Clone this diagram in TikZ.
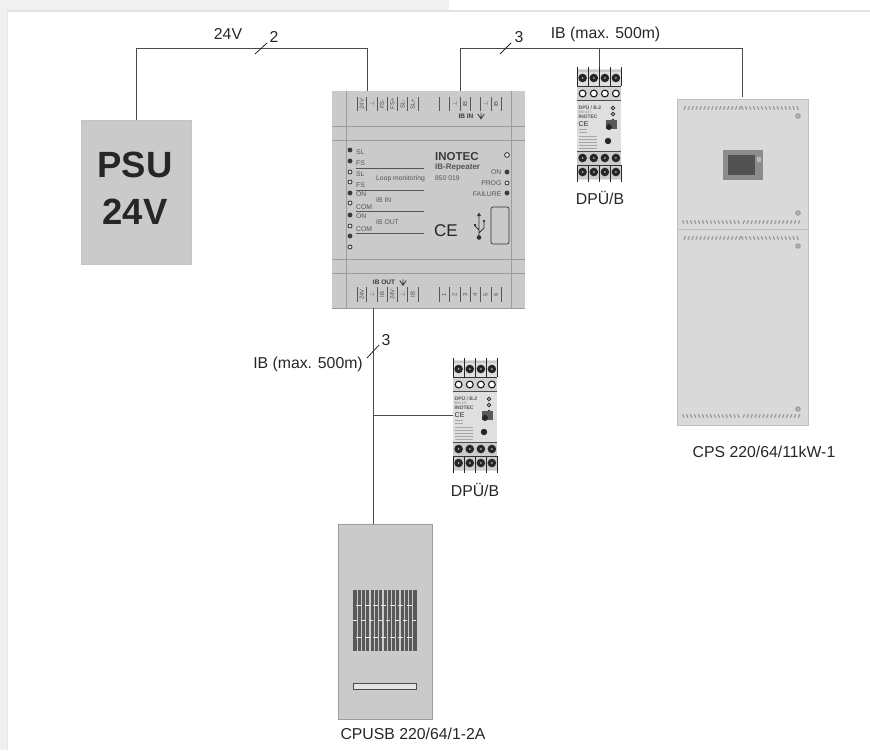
\documentclass[tikz,border=0pt]{standalone}
\usepackage{fontspec}
\setmainfont{Liberation Sans}
\newcommand\tsz[1]{\fontsize{#1}{#1}\selectfont}
\definecolor{ink}{HTML}{262626}
\definecolor{wirecol}{HTML}{4A4A4A}
\definecolor{boxgrey}{HTML}{CACACA}
\definecolor{rimgrey}{HTML}{9C9C9C}
\definecolor{labgrey}{HTML}{555555}
\definecolor{cabgrey}{HTML}{D9D9D9}
\tikzset{
  wireln/.style={draw=wirecol,line width=1pt},
  slashln/.style={draw=ink,line width=.8pt},
  biglabel/.style={font=\tsz{15.8},text=ink,inner sep=0pt},
  tinylab/.style={font=\tsz{6.8},text=labgrey,inner sep=0pt,anchor=west},
  pinlab/.style={font=\tsz{6},text=labgrey,inner sep=0pt,rotate=90},
  panelln/.style={draw=rimgrey,line width=.8pt},
  tickln/.style={draw=labgrey,line width=.7pt},
  ledon/.style={fill=labgrey!70!black,draw=labgrey!70!black,line width=.4pt},
  ledoff/.style={fill=boxgrey!40!white,draw=black!75,line width=.9pt},
  anchorbox/.style={inner sep=0pt,outer sep=0pt,minimum width=#1},
  ventln/.style={draw=gray!80,line width=1.2pt},
}
% DPU device: #1 node name, #2 x, #3 y of top-left corner
\newcommand\dpudevice[3]{%
  \begin{scope}[shift={(#2,#3)}]
    \node[anchorbox=44pt,minimum height=115pt,anchor=north west] (#1) at (0,0) {};
    \fill[gray!25] (0,2) rectangle (44,113);
    \fill[gray!45] (0,3) rectangle (44,5);
    \fill[gray!35] (0,20) rectangle (44,33);
    \fill[gray!40] (0,85) rectangle (44,112);
    \foreach \xx in {0,11.2,22.4,33.4,44}{
      \draw[black!85,line width=.8pt] (\xx,0) -- (\xx,19);
      \draw[black!85,line width=.8pt] (\xx,98) -- (\xx,115);
    }
    \draw[black!80,line width=.8pt] (0,19.5) -- (44,19.5);
    \draw[black!70,line width=.6pt] (0,33) -- (44,33);
    \draw[black!70,line width=.6pt] (0,84) -- (44,84);
    \draw[black!80,line width=.8pt] (0,98) -- (44,98);
    \foreach \xx in {5.6,16.8,27.9,38.9}{
      \fill[black!85] (\xx,11) circle (4.3);
      \fill[gray!60] (\xx,11) circle (1);
      \draw[black!90,fill=white,line width=1.1pt] (\xx,26.5) circle (3.4);
      \fill[black!85] (\xx,91) circle (4.3);
      \fill[gray!60] (\xx,91) circle (1);
      \fill[black!85] (\xx,105) circle (4.3);
      \fill[gray!60] (\xx,105) circle (1);
    }
    \node[font=\bfseries\tsz{5},text=labgrey,inner sep=0pt,anchor=west] (#1t1) at (1.5,40) {DPÜ / B.2};
    \node[font=\tsz{3.5},text=gray,inner sep=0pt,anchor=west] (#1t2) at (1.5,45) {880 417};
    \node[font=\bfseries\tsz{5},text=labgrey,inner sep=0pt,anchor=west] (#1t3) at (1.5,50) {INOTEC};
    \node[font=\tsz{7},text=ink,inner sep=0pt,anchor=west] (#1t4) at (1.5,57) {CE};
    \foreach \yy in {41,47,54}{\draw[black!85,fill=white,line width=.8pt] (36,\yy) circle (1.8);}
    \fill[gray!70!black] (29,53) rectangle (40,62);
    \fill[black!85] (32,60) circle (3);
    \fill[black!85] (31,74) circle (3.2);
    \foreach \yy in {69,72,75,78,81}{\draw[gray!70,line width=.5pt] (2,\yy) -- (20,\yy);}
    \draw[gray!70,line width=.5pt] (2,62) -- (10,62) (2,65) -- (10,65);
  \end{scope}}
% cabinet vents: #1 y, #2 left slant, #3 right slant
\newcommand\ventrow[3]{%
  \foreach \ii in {0,...,14}{
    \draw[ventln] ({684+\ii*3.95},#1+1.7) -- ({684+\ii*3.95+#2},#1-1.7);
    \draw[ventln] ({743+\ii*3.95},#1+1.7) -- ({743+\ii*3.95+#3},#1-1.7);
  }}
\newcommand\boltmark[1]{\fill[gray!75] (798,#1) circle (2.8);\fill[gray!50] (798,#1) circle (1.2);}
\newcommand\downmark[2]{\draw[labgrey!70!black,line width=.8pt] (#1,#2-3.2) -- (#1,#2+3.2) (#1-3.2,#2-2) -- (#1,#2+2.8) -- (#1+3.2,#2-2);}
\begin{document}
\begin{tikzpicture}[x=1pt,y=-1pt]
\useasboundingbox (0,0) rectangle (870,750);
% page frame
\fill[white] (0,0) rectangle (870,750);
\fill[gray!12!white] (0,0) rectangle (449,9.5);
\fill[gray!12!white] (0,0) rectangle (6.5,750);
\fill[gray!22!white] (6.5,9.5) rectangle (870,12);
\fill[gray!20!white] (6.5,9.5) rectangle (8,750);

% PSU
\node[draw=rimgrey!60,fill=boxgrey,line width=.6pt,minimum width=110pt,minimum height=144pt,inner sep=0pt,anchor=north west] (psu) at (81,120) {};
\node[font=\bfseries\tsz{36.5},text=ink,inner sep=0pt] (psua) at (135,165) {PSU};
\node[font=\bfseries\tsz{36.5},text=ink,inner sep=0pt] (psub) at (135,212) {24V};

% Repeater
\node[fill=boxgrey,minimum width=193pt,minimum height=217pt,inner sep=0pt,anchor=north west] (rep) at (332,91) {};
\draw[panelln] (346,91) -- (346,308) (511.5,91) -- (511.5,308);
\draw[panelln] (332,126) -- (525,126) (332,140) -- (525,140) (332,259) -- (525,259) (332,273) -- (525,273);
\draw[rimgrey,line width=.8pt] (332,308) -- (525,308);
\foreach \xx in {357,366.5,377,387,397.5,407.5,418,439,449,460,470,480,491,501}{
  \draw[tickln] (\xx,97) -- (\xx,111);
  \draw[tickln] (\xx,287) -- (\xx,302);
}
\foreach \xx/\tt in {361.7/24V,371.7/$\perp$,382/FS-,392.2/FS+,402.5/SL-,412.7/SL+,454.5/$\perp$,465/IB,485.5/$\perp$,496/IB}{
  \node[pinlab] at (\xx,104) {\tt};
}
\foreach \xx/\tt in {361.7/24V,371.7/$\perp$,382/IB,392.2/24V,402.5/$\perp$,412.7/IB,444/1,454.5/2,465/3,475/4,485.5/5,496/6}{
  \node[pinlab] at (\xx,294.5) {\tt};
}
\node[font=\bfseries\tsz{6.5},text=labgrey!70!black,inner sep=0pt] (ibin) at (466,116) {IB IN};
\downmark{481}{116}
\node[font=\bfseries\tsz{6.5},text=labgrey!70!black,inner sep=0pt] (ibout) at (384,282.5) {IB OUT};
\downmark{403}{282.5}
\foreach \yy in {150,161,193,215,236}{\fill[ledon] (350,\yy) circle (2.2);}
\foreach \yy in {172,182,203,226,247}{\draw[ledoff] (350,\yy) circle (2);}
\foreach \yy/\tt in {152/SL,163/FS,174/SL,185/FS,194/ON,207/COM,216/ON,229/COM}{
  \node[tinylab] at (356,\yy) {\tt};
}
\draw[labgrey,line width=.9pt] (356,168) -- (424,168) (356,190) -- (424,190) (356,211) -- (424,211) (356,233) -- (424,233);
\node[tinylab] (loopm) at (376,179) {Loop monitoring};
\node[tinylab] (ibinl) at (376,200) {IB IN};
\node[tinylab] (iboutl) at (376,222) {IB OUT};
\node[font=\bfseries\tsz{11.5},text=labgrey!70!black,inner sep=0pt,anchor=west] (ino) at (435,157) {INOTEC};
\node[font=\bfseries\tsz{8},text=labgrey,inner sep=0pt,anchor=west] (ibr) at (435,168) {IB-Repeater};
\node[tinylab] (artn) at (435,178) {850 019};
\node[tinylab,anchor=east] (onl) at (501.5,172) {ON};
\node[tinylab,anchor=east] (progl) at (501.5,183) {PROG};
\node[tinylab,anchor=east] (faill) at (501.5,194) {FAILURE};
\draw[ledoff] (507,155) circle (2.4);
\fill[ledon] (507,172) circle (2.2);
\draw[ledoff] (507,183) circle (2);
\fill[ledon] (507,193) circle (2.2);
\node[font=\tsz{17},text=ink,inner sep=0pt] (ce) at (446,231) {CE};
\draw[black!80,line width=.7pt,rounded corners=2pt] (491,207) rectangle (509,244);
\draw[labgrey!60!black,line width=.9pt] (479,215) -- (479,237) (479,233) -- (484,228) -- (484,222) (479,230) -- (475,226);
\fill[labgrey!60!black] (477,216) -- (479,212.5) -- (481,216) -- cycle;
\fill[labgrey!60!black] (479,237.5) circle (2.3);
\fill[labgrey!60!black] (484,221) circle (1.4);
\fill[labgrey!60!black] (473.8,223.8) rectangle (476.2,226.2);

% Cabinet
\node[draw=gray!50,fill=cabgrey,line width=1pt,minimum width=131pt,minimum height=326pt,inner sep=0pt,anchor=north west] (cps) at (676.5,99) {};
\draw[gray!50,line width=1pt] (676.5,229) -- (807.5,229);
\ventrow{108}{1.5}{-1.5}
\ventrow{222}{-1.5}{1.5}
\ventrow{238}{1.5}{-1.5}
\ventrow{416}{-1.5}{1.5}
\boltmark{116}\boltmark{213}\boltmark{246}\boltmark{409}
\fill[gray!90] (723,150) rectangle (763,180);
\fill[black!68] (728,155) rectangle (755,175);
\fill[gray!55] (757,157) rectangle (761,162);

% CPUSB
\node[draw=rimgrey,fill=boxgrey,line width=.7pt,minimum width=94pt,minimum height=195pt,inner sep=0pt,anchor=north west] (cpusb) at (338,524) {};
\fill[black!65] (353,590) rectangle (417,651);
\foreach \ii in {1,...,14}{
  \draw[boxgrey,line width=1.3pt] ({353+\ii*4.27},590) -- ({353+\ii*4.27},651);
}
\foreach \xx in {358.5,367,375,383.5,392,400.5,409.5}{
  \draw[gray!15,line width=1pt] (\xx-2.5,605) -- (\xx+2.5,605);
  \draw[gray!15,line width=1pt] (\xx-2.5,637) -- (\xx+2.5,637);
}
\foreach \xx in {354.5,362.5,371,380,388,396.5,405,414}{
  \draw[gray!15,line width=1pt] (\xx-2,620) -- (\xx+2,620);
}
\draw[black!70,fill=gray!20,line width=.9pt] (353.5,683) rectangle (416.5,689);

% DPU devices
\dpudevice{dpua}{577}{67}
\dpudevice{dpub}{453}{358}

% connector ends
\coordinate (rep24) at (367,91);
\coordinate (repibin) at (460,91);
\coordinate (repibout) at (373,308);
\coordinate (topa) at (367,48);
\coordinate (topb) at (742,48);
\coordinate (cpstop) at (742,97);
\coordinate (cpusbtop) at (373,524);
\coordinate (sa1) at (255,54);\coordinate (sa2) at (267,43);
\coordinate (sb1) at (500,54);\coordinate (sb2) at (511,43);
\coordinate (sc1) at (367,358);\coordinate (sc2) at (379,345);

% connectors
\draw[wireln] (psu.north) |- (topa) -- (rep24);
\draw[wireln] (repibin) |- (topb) -- (cpstop);
\draw[wireln] (dpua.north) -- (dpua.north |- topb);
\draw[wireln] (repibout) -- (cpusbtop);
\draw[wireln] (dpub.west) -- (dpub.west -| repibout);
\draw[slashln] (sa1) -- (sa2);
\draw[slashln] (sb1) -- (sb2);
\draw[slashln] (sc1) -- (sc2);

% labels
\node[biglabel] (l24) at (228,34) {24V};
\node[biglabel] (l2) at (274,37) {2};
\node[biglabel] (l3a) at (519,37) {3};
\node[biglabel] (lib) at (605.5,34) {IB (max. 500m)};
\node[biglabel] (l3b) at (386,340) {3};
\node[biglabel] (lib2) at (308,364) {IB (max. 500m)};
\node[biglabel] (ldpua) at (600,198) {DPÜ/B};
\node[biglabel] (ldpub) at (475,490) {DPÜ/B};
\node[biglabel] (lcps) at (764,452) {CPS 220/64/11kW-1};
\node[biglabel] (lcpu) at (413,734) {CPUSB 220/64/1-2A};
\end{tikzpicture}
\end{document}
